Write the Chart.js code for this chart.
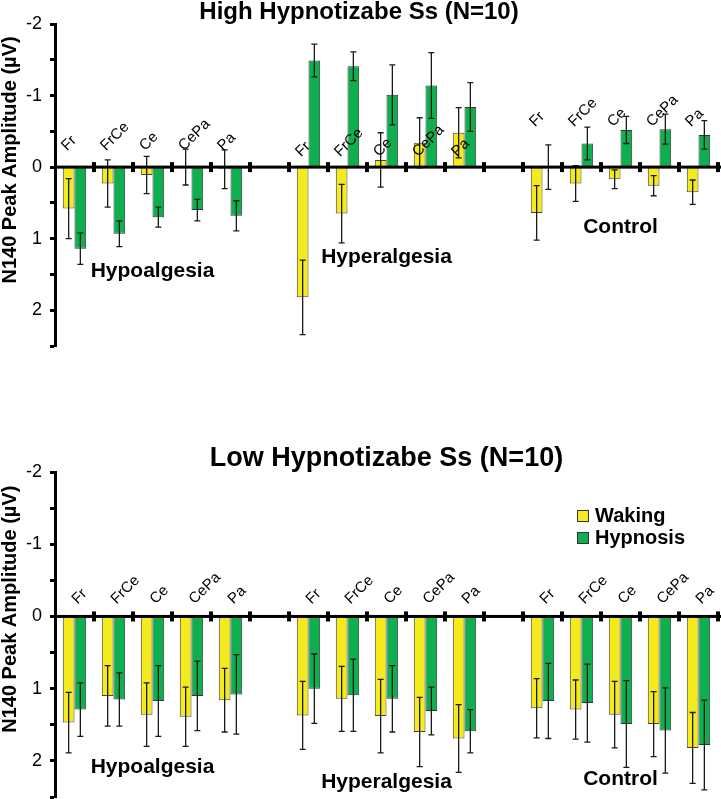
<!DOCTYPE html>
<html>
<head>
<meta charset="utf-8">
<script src="https://cdn.jsdelivr.net/npm/chart.js@4.4.0/dist/chart.umd.min.js"></script>
<style>
  html, body { margin: 0; padding: 0; background: #fff; overflow: hidden; }
  #wrap { position: relative; width: 721px; height: 799px; }
  .box { position: absolute; left: 0; width: 721px; }
  #high-box { top: 0; height: 350px; }
  #low-box { top: 375px; height: 424px; }
</style>
</head>
<body>
<div id="wrap">
  <div class="box" id="high-box"><canvas id="highChart"></canvas></div>
  <div class="box" id="low-box"><canvas id="lowChart"></canvas></div>
</div>
<script>
const FONT = "'Liberation Sans', Arial, sans-serif";

// elektrod joylari va guruhlar
const sites = ['Fr', 'FrCe', 'Ce', 'CePa', 'Pa'];
const groups = ['Hypoalgesia', 'Hyperalgesia', 'Control'];
const seriesNames = ['Waking', 'Hypnosis'];
const yTicks = [-2, -1, 0, 1, 2];
const yTitle = 'N140 Peak Amplitude (µV)';

// High hypnotizable (uV, musbat = pastga)
const highWaking    = [0.58, 0.23, 0.11, 0.00, 0.03,   1.82, 0.65, -0.10, -0.34, -0.48,   0.64, 0.23, 0.17, 0.26, 0.35];
const highWakingErr = [0.42, 0.33, 0.26, 0.25, 0.27,   0.52, 0.41, 0.38, 0.35, 0.35,      0.38, 0.25, 0.13, 0.14, 0.17];
const highHypno     = [1.14, 0.93, 0.70, 0.60, 0.68,   -1.49, -1.41, -1.01, -1.14, -0.84, 0.00, -0.33, -0.52, -0.53, -0.45];
const highHypnoErr  = [0.22, 0.18, 0.14, 0.15, 0.21,   0.23, 0.20, 0.42, 0.46, 0.34,      0.31, 0.23, 0.19, 0.21, 0.20];

// Low hypnotizable
const lowWaking    = [1.47, 1.10, 1.36, 1.39, 1.16,   1.37, 1.14, 1.38, 1.60, 1.69,   1.27, 1.29, 1.36, 1.49, 1.82];
const lowWakingErr = [0.42, 0.42, 0.44, 0.41, 0.44,   0.47, 0.45, 0.51, 0.48, 0.47,   0.41, 0.41, 0.46, 0.45, 0.49];
const lowHypno     = [1.29, 1.15, 1.17, 1.10, 1.08,   1.00, 1.09, 1.14, 1.31, 1.59,   1.17, 1.20, 1.49, 1.58, 1.78];
const lowHypnoErr  = [0.37, 0.37, 0.49, 0.48, 0.55,   0.48, 0.50, 0.46, 0.33, 0.30,   0.52, 0.54, 0.60, 0.59, 0.62];

// guruhlar orasiga bo'sh kategoriya qo'shish
function withGaps(arr, filler) {
    const out = [];
    for (let g = 0; g < groups.length; g++) {
        if (g > 0) out.push(filler);
        out.push(...arr.slice(g * sites.length, (g + 1) * sites.length));
    }
    return out;
}
const categories = withGaps(groups.flatMap(() => sites), '');

const errorBars = {
    id: 'errorBars',
    afterDatasetsDraw(chart) {
        const ctx = chart.ctx;
        const ys = chart.scales.y;
        chart.data.datasets.forEach((ds, di) => {
            const meta = chart.getDatasetMeta(di);
            meta.data.forEach((bar, i) => {
                const v = ds.data[i], e = ds.errors[i];
                if (v === null || e === null) return;
                const y1 = ys.getPixelForValue(v - e);
                const y2 = ys.getPixelForValue(v + e);
                ctx.save();
                ctx.strokeStyle = '#1a1a1a';
                ctx.lineWidth = 1.3;
                ctx.beginPath();
                ctx.moveTo(bar.x, y1); ctx.lineTo(bar.x, y2);
                ctx.moveTo(bar.x - 3, y1); ctx.lineTo(bar.x + 3, y1);
                ctx.moveTo(bar.x - 3, y2); ctx.lineTo(bar.x + 3, y2);
                ctx.stroke();
                ctx.restore();
            });
        });
    }
};

// nol chiziq, kategoriya belgilari, guruh nomlari, legenda
const deco = {
    id: 'deco',
    afterDraw(chart, args, opts) {
        const ctx = chart.ctx;
        const xs = chart.scales.x, ys = chart.scales.y;
        const y0 = ys.getPixelForValue(0);
        const half = (xs.getPixelForValue(1) - xs.getPixelForValue(0)) / 2;
        ctx.save();
        ctx.fillStyle = '#000';
        ctx.fillRect(chart.chartArea.left, y0 - 1.5, chart.width - chart.chartArea.left, 3);
        for (let i = 0; i < categories.length; i++) {
            const xb = xs.getPixelForValue(i) + half;
            ctx.fillRect(xb - 2, y0 - 5, 4, 10);
        }

        // y o'q nomi
        ctx.save();
        ctx.translate(10, ys.getPixelForValue(opts.yTitleAt));
        ctx.rotate(-Math.PI / 2);
        ctx.font = `bold 20px ${FONT}`;
        ctx.textAlign = 'center';
        ctx.textBaseline = 'middle';
        ctx.fillText(yTitle, 0, 0);
        ctx.restore();

        // kategoriya yorliqlari, 45 gradus, markazi bo'yicha
        const c = Math.SQRT1_2, k = 5.4;
        ctx.font = `15px ${FONT}`;
        categories.forEach((lab, i) => {
            if (!lab) return;
            const g = Math.floor(i / (sites.length + 1));
            const w = ctx.measureText(lab).width;
            const tx = xs.getPixelForValue(i) + opts.labelDx;
            const ty = y0 - opts.labelLift[g];
            ctx.save();
            ctx.translate(tx + c * (w / 2 - k), ty - c * (w / 2 + k));
            ctx.rotate(-Math.PI / 4);
            ctx.textAlign = 'center';
            ctx.textBaseline = 'middle';
            ctx.fillText(lab, 0, 0);
            ctx.restore();
        });

        // guruh nomlari
        ctx.font = `bold 21px ${FONT}`;
        ctx.textAlign = 'center';
        ctx.textBaseline = 'alphabetic';
        groups.forEach((name, g) => {
            const first = g * (sites.length + 1);
            const cx = (xs.getPixelForValue(first) + xs.getPixelForValue(first + sites.length - 1)) / 2;
            ctx.fillText(name, cx, ys.getPixelForValue(opts.groupY[g]));
        });
        // legenda
        if (opts.legend) {
            ctx.font = `bold 20px ${FONT}`;
            ctx.textAlign = 'left';
            chart.data.datasets.forEach((ds, di) => {
                const by = opts.legend.y + di * 22;
                ctx.fillStyle = ds.backgroundColor;
                ctx.fillRect(opts.legend.x, by - 12, 12, 12);
                ctx.strokeStyle = '#333';
                ctx.lineWidth = 1;
                ctx.strokeRect(opts.legend.x + 0.5, by - 11.5, 11, 11);
                ctx.fillStyle = '#000';
                ctx.fillText(ds.label, opts.legend.x + 18, by);
            });
        }
        ctx.restore();
    }
};

function makeChart(id, title, titleSize, waking, wakingErr, hypno, hypnoErr, layoutPad, decoOpts, fullTitle) {
    return new Chart(document.getElementById(id), {
        type: 'bar',
        data: {
            labels: categories,
            datasets: [
                { label: seriesNames[0], data: withGaps(waking, null), errors: withGaps(wakingErr, null),
                  backgroundColor: '#f4ea1c', borderColor: '#444', borderWidth: 1 },
                { label: seriesNames[1], data: withGaps(hypno, null), errors: withGaps(hypnoErr, null),
                  backgroundColor: '#0daf4f', borderColor: '#333', borderWidth: 1 }
            ]
        },
        options: {
            responsive: true,
            maintainAspectRatio: false,
            animation: false,
            layout: { padding: layoutPad },
            datasets: { bar: { categoryPercentage: 0.6, barPercentage: 1.0 } },
            plugins: {
                legend: { display: false },
                tooltip: { enabled: false },
                title: {
                    display: true, text: title, color: '#000', padding: 0, fullSize: fullTitle,
                    font: { family: FONT, size: titleSize, weight: 'bold', lineHeight: 1 }
                },
                deco: decoOpts
            },
            scales: {
                x: { type: 'category', display: false, offset: true },
                y: {
                    min: -2, max: 2.5, reverse: true,
                    afterFit(s) { s.width = 55; s.paddingTop = 0; s.paddingBottom = 0; },
                    ticks: {
                        stepSize: 0.5, autoSkip: false, padding: 8, color: '#000',
                        font: { family: FONT, size: 18 },
                        callback: v => yTicks.includes(v) ? String(v) : ''
                    },
                    grid: { drawOnChartArea: false, drawTicks: true, tickLength: 5, tickWidth: 3, color: '#000' },
                    border: { display: true, width: 3, color: '#000' }
                }
            }
        },
        plugins: [errorBars, deco]
    });
}

makeChart('highChart', 'High Hypnotizabe Ss (N=10)', 24,
    highWaking, highWakingErr, highHypno, highHypnoErr,
    { top: 0, right: 3, bottom: 4, left: 0 },
    { labelDx: -6.5, labelLift: [15, 9, 39], groupY: [1.53, 1.34, 0.92], yTitleAt: -0.1 }, true);

makeChart('lowChart', 'Low Hypnotizabe Ss (N=10)', 27,
    lowWaking, lowWakingErr, lowHypno, lowHypnoErr,
    { top: 70, right: 3, bottom: 2, left: 0 },
    { labelDx: 4, labelLift: [11, 11, 11], groupY: [2.17, 2.38, 2.33], yTitleAt: -0.1,
      legend: { x: 577, y: 147 } }, false);
</script>
</body>
</html>
